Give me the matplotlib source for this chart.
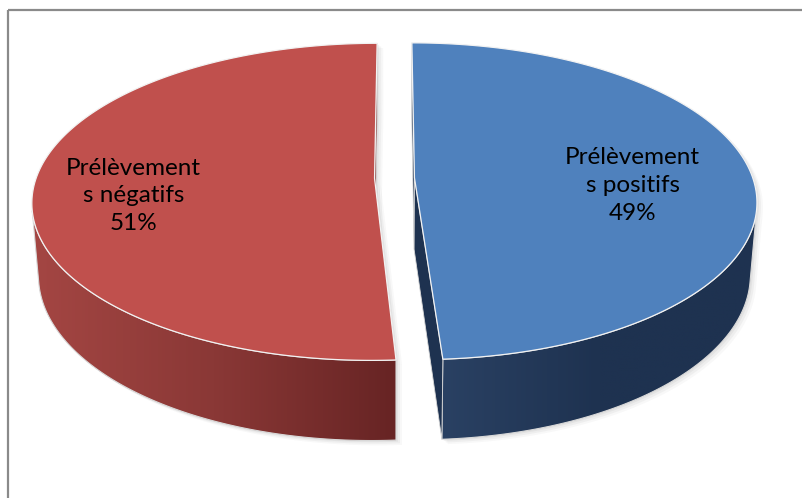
import textwrap
import numpy as np
import matplotlib.pyplot as plt
from matplotlib.patches import Polygon
from matplotlib.colors import to_rgb

# data
categories = ["Prélèvements positifs", "Prélèvements négatifs"]
shares = [49, 51]

# styles (first slice starts at 12 o'clock, clockwise)
top_colors = ["#4F81BD", "#C0504D"]
side_colors = [("#2A4163", "#1E3250", "#1E3250"), ("#A44643", "#8A3836", "#672424")]
cut_colors = ["#1E3250", "#7A2E2C"]
label_radius = [0.64, 0.70]
label_drop = [0.07, 0.09]

W, H = 803, 498
ELEV = np.radians(27)
DIST = 6.0
HEIGHT = 0.24
EXPLODE = 0.059
SX, SY = 2030, 2048
X0, Y0 = 394.5, 178


def project(X, Y, Z):
    c, s = np.cos(ELEV), np.sin(ELEV)
    dy = np.asarray(Y) + DIST * c
    dz = np.asarray(Z) - DIST * s
    depth = dy * c - dz * s
    up = dy * s + dz * c
    return X0 + SX * np.asarray(X) / depth, Y0 - SY * up / depth, depth


cam = np.array([0.0, -DIST * np.cos(ELEV), DIST * np.sin(ELEV)])

fig = plt.figure(figsize=(W / 100, H / 100), dpi=100)
ax = fig.add_axes([0, 0, 1, 1])

total = float(sum(shares))
sides, cuts, tops, slices = [], [], [], []
start = np.pi / 2
for i, v in enumerate(shares):
    span = 2 * np.pi * v / total
    a0, a1 = start, start - span
    mid = (a0 + a1) / 2
    ox, oy = EXPLODE * np.cos(mid), EXPLODE * np.sin(mid)
    slices.append((mid, ox, oy))
    start = a1

    t = np.linspace(a0, a1, 400)
    rx, ry = ox + np.cos(t), oy + np.sin(t)
    px_t, py_t, _ = project(rx, ry, 0 * t)
    px_b, py_b, _ = project(rx, ry, 0 * t - HEIGHT)

    # visible part of the curved side
    P = np.c_[rx, ry, 0 * t - HEIGHT / 2]
    N = np.c_[np.cos(t), np.sin(t), 0 * t]
    vis = np.einsum('ij,ij->i', N, cam - P) > 0
    idx = np.where(vis)[0]
    if len(idx):
        k0, k1 = idx.min(), idx.max() + 1
        poly = np.r_[np.c_[px_t[k0:k1], py_t[k0:k1]],
                     np.c_[px_b[k0:k1], py_b[k0:k1]][::-1]]
        sides.append((poly, side_colors[i]))

    # radial cut faces
    for a, n in ((a0, np.array([-np.sin(a0), np.cos(a0), 0])),
                 (a1, np.array([np.sin(a1), -np.cos(a1), 0]))):
        p = np.array([ox + 0.5 * np.cos(a), oy + 0.5 * np.sin(a), -HEIGHT / 2])
        if n @ (cam - p) <= 0:
            continue
        X = [ox, ox + np.cos(a), ox + np.cos(a), ox]
        Y = [oy, oy + np.sin(a), oy + np.sin(a), oy]
        Z = [0, 0, -HEIGHT, -HEIGHT]
        qx, qy, _ = project(X, Y, Z)
        cuts.append((np.c_[qx, qy], cut_colors[i]))

    cx, cy, _ = project(ox, oy, 0)
    tops.append((np.c_[np.r_[cx, px_t], np.r_[cy, py_t]], top_colors[i]))

# soft shadow
for off, al in ((6, 0.05), (4, 0.07), (2, 0.09)):
    for poly, _ in sides + cuts + tops:
        ax.add_patch(Polygon(poly + [off, off * 0.8], closed=True,
                             fc='#777777', ec='none', alpha=al, zorder=1))

# curved sides with a horizontal gradient
for poly, (c1, c2, c3) in sides:
    xl, xr = poly[:, 0].min(), poly[:, 0].max()
    yt, yb = poly[:, 1].min(), poly[:, 1].max()
    u = np.linspace(0, 1, 256)[:, None]
    a, b, c = (np.array(to_rgb(cc)) for cc in (c1, c2, c3))
    grad = np.where(u < 0.5, a + (b - a) * (u / 0.5), b + (c - b) * ((u - 0.5) / 0.5))
    im = ax.imshow(grad[None, :, :], extent=(xl, xr, yb, yt), aspect='auto',
                   interpolation='bilinear', zorder=2)
    clip = Polygon(poly, closed=True, transform=ax.transData)
    im.set_clip_path(clip)
    ax.add_patch(Polygon(poly, closed=True, fc='none', ec='#D8D8D8', lw=0.8,
                         zorder=2.5))

for poly, col in cuts:
    ax.add_patch(Polygon(poly, closed=True, fc=col, ec='#D8D8D8', lw=0.6, zorder=3))

for poly, col in tops:
    ax.add_patch(Polygon(poly, closed=True, fc=col, ec='#F2F2F2', lw=0.9,
                         joinstyle='round', zorder=4))

# labels
for i, (name, v) in enumerate(zip(categories, shares)):
    mid, ox, oy = slices[i]
    r = label_radius[i]
    lx, ly, _ = project(ox + r * np.cos(mid), oy + r * np.sin(mid) - label_drop[i], 0)
    text = "\n".join(textwrap.wrap(name, 11)) + "\n{:.0f}%".format(100 * v / total)
    ax.text(lx, ly, text, ha='center', va='center', fontsize=17.5,
            family='Lato', color='black', linespacing=1.4, zorder=5)

# chart area border
ax.plot([8.5, 8.5], [H, 9.5], color='#8A8A8A', lw=1.6, solid_capstyle='butt', zorder=6)
ax.plot([8.5, W], [9.5, 9.5], color='#8A8A8A', lw=1.6, solid_capstyle='butt', zorder=6)

ax.set_xlim(0, W)
ax.set_ylim(H, 0)
ax.axis('off')

fig.savefig('out.png', dpi=100)
